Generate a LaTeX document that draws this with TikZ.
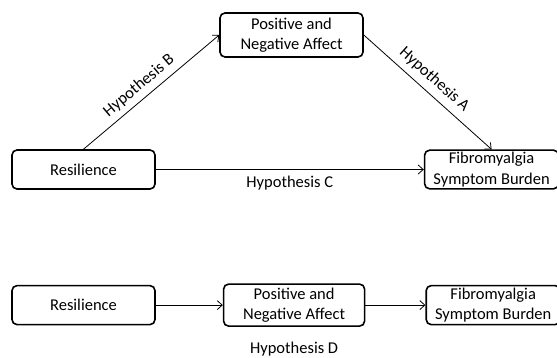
\documentclass[tikz,border=0pt]{standalone}
\usepackage{fontspec}
\setmainfont{Carlito}
\usepackage{tikz}
\usetikzlibrary{arrows.meta, positioning}
\tikzstyle{arrow} = [line width=0.8pt, -{Straight Barb[length=5pt, width=9pt]}]

\begin{document}
\begin{tikzpicture}[
  font=\fontsize{16.5}{20.5}\selectfont,
  box/.style={draw, line width=1.6pt, rounded corners=5pt, minimum width=143pt, minimum height=39pt, inner sep=2pt, align=center},
  node distance=95pt and 67pt
]
\useasboundingbox (0pt,0pt) rectangle (557pt,-357pt);

% Mediation triangle (top)
\node[box] (res) at (83.5pt,-169.5pt) {Resilience};
\node[box, minimum height=44pt] (pna) at (291.5pt,-35pt) {Positive and\\Negative Affect};
\node[box, minimum width=134pt, minimum height=38pt, right=268pt of res] (fsb) {Fibromyalgia\\Symptom Burden};

\draw[arrow] (res.north) -- node[pos=0.47, sloped, above=2pt] (hb) {Hypothesis B} (pna.west);
\draw[arrow] (pna.east) -- node[pos=0.48, sloped, above=3pt] (ha) {Hypothesis A} (fsb.north);
\draw[arrow] (res) -- node[midway, below=3pt] (hc) {Hypothesis C} (fsb);

% Serial chain (bottom)
\node[box, below=of res] (res2) {Resilience};
\node[box, minimum width=141pt, minimum height=42pt, right=of res2] (pna2) {Positive and\\Negative Affect};
\node[box, minimum width=134pt, right=60pt of pna2] (fsb2) {Fibromyalgia\\Symptom Burden};

\draw[arrow] (res2) -- (pna2);
\draw[arrow] (pna2) -- (fsb2);

% Labels
\node[below=12pt of pna2] (hd) {Hypothesis D};

\end{tikzpicture}
\end{document}
